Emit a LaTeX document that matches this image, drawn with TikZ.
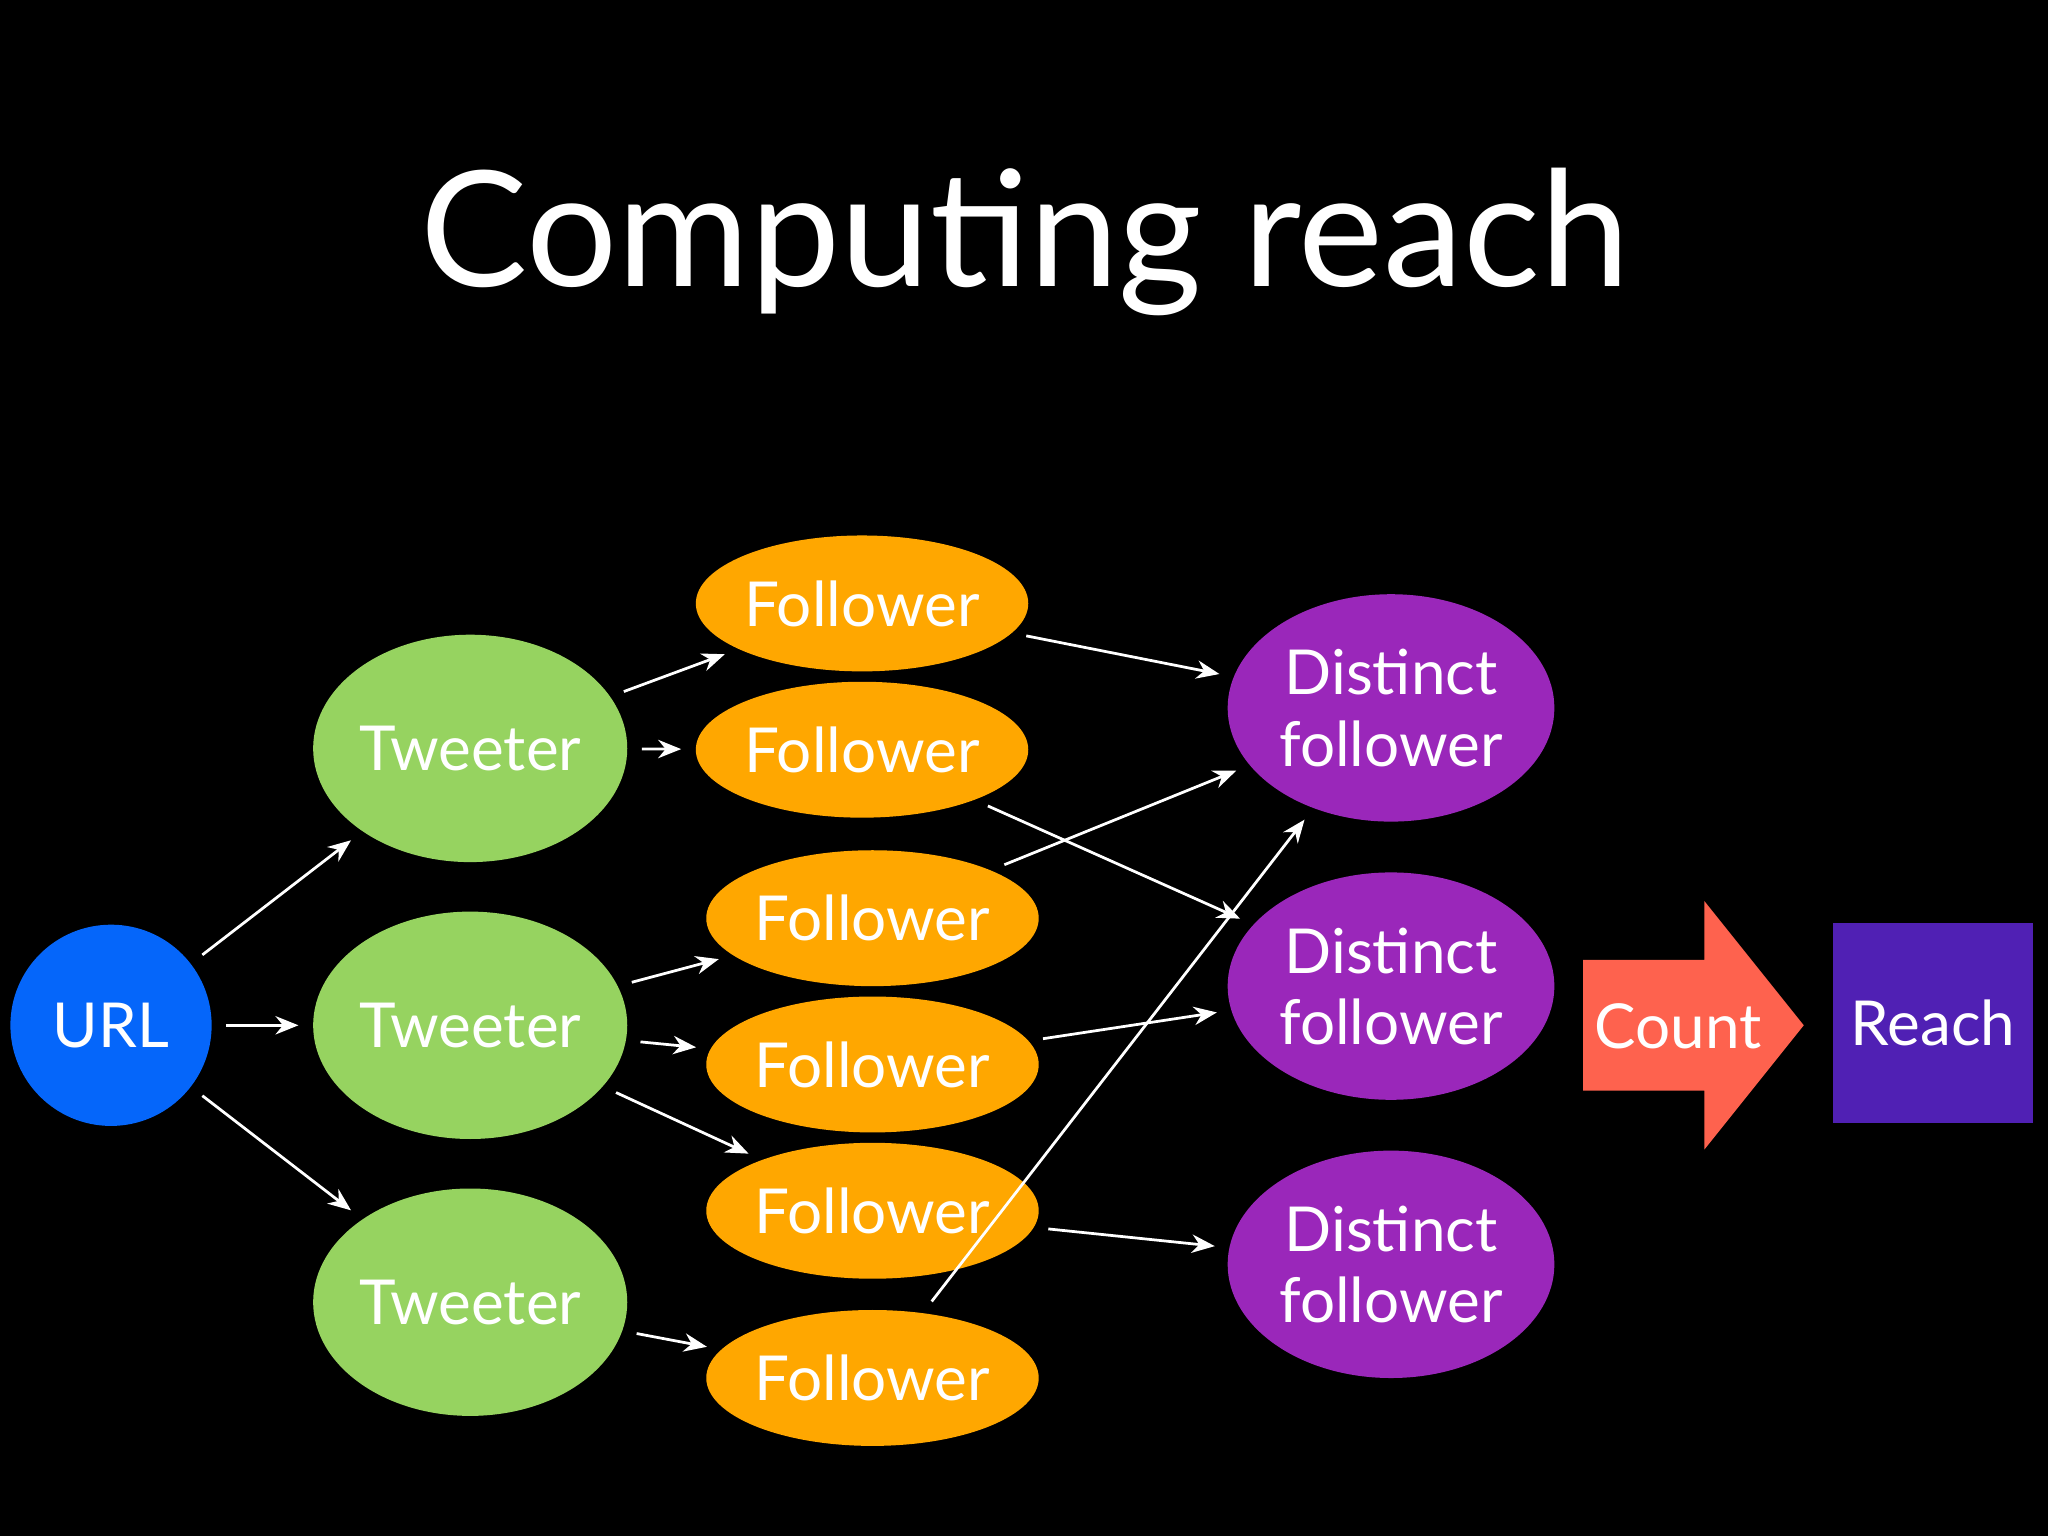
\documentclass[tikz,border=0pt]{standalone}
\usepackage{fontspec}
\setmainfont{Lato}
\usetikzlibrary{arrows.meta,shapes.geometric}
\definecolor{urlc}{HTML}{0566FA}
\definecolor{twc}{HTML}{96D360}
\definecolor{flc}{HTML}{FFA700}
\definecolor{dfc}{HTML}{9A27BA}
\definecolor{cnc}{HTML}{FE624E}
\definecolor{rcc}{HTML}{5020B4}
\begin{document}
\begin{tikzpicture}[x=0.01cm,y=-0.01cm,
  lbl/.style={text=white,font=\fontsize{13.5}{15}\selectfont,align=center},
  urlnode/.style={circle,fill=urlc,minimum size=1.54cm,inner sep=0pt,lbl},
  twnode/.style={ellipse,fill=twc,minimum width=1.8cm,minimum height=1.74cm,inner sep=0pt,lbl},
  flnode/.style={ellipse,fill=flc,minimum width=2.48cm,minimum height=1.04cm,inner sep=0pt,lbl},
  dfnode/.style={ellipse,fill=dfc,minimum width=2.5cm,minimum height=1.74cm,inner sep=0pt,lbl,font=\fontsize{13.5}{15.5}\selectfont},
  conn/.style={draw=white,line width=0.6pt,-{Stealth[length=5pt,width=4pt]},shorten <=3pt,shorten >=3pt}]
\fill[black] (0,0) rectangle (1568,1176);
\node[text=white,font=\fontsize{35}{40}\selectfont] (title) at (785,185) {Computing reach};
\node[urlnode] (url) at (85,785) {URL};
\node[twnode] (t1) at (360,573) {Tweeter};
\node[twnode] (t2) at (360,785) {Tweeter};
\node[twnode] (t3) at (360,997) {Tweeter};
\node[flnode] (f1) at (660,462) {Follower};
\node[flnode] (f2) at (660,574) {Follower};
\node[flnode] (f3) at (668,703) {Follower};
\node[flnode] (f4) at (668,815) {Follower};
\node[flnode] (f5) at (668,927) {Follower};
\node[flnode] (f6) at (668,1055) {Follower};
\node[dfnode] (d1) at (1065,542) {Distinct\\follower};
\node[dfnode] (d2) at (1065,755) {Distinct\\follower};
\node[dfnode] (d3) at (1065,968) {Distinct\\follower};
\fill[cnc] (1212,735) -- (1305,735) -- (1305,690) -- (1381,785) -- (1305,880) -- (1305,835) -- (1212,835) -- cycle;
\node[lbl] (count) at (1285,786) {Count};
\node[fill=rcc,minimum size=1.53cm,inner sep=0pt,lbl] (reach) at (1480,783) {Reach};
\draw[conn] (url) -- (t1);
\draw[conn] (url) -- (t2);
\draw[conn] (url) -- (t3);
\draw[conn] (t1) -- (f1);
\draw[conn] (t1) -- (f2);
\draw[conn] (t2) -- (f3);
\draw[conn] (t2) -- (f4);
\draw[conn] (t2) -- (f5);
\draw[conn] (t3) -- (f6);
\draw[conn] (f1) -- (d1);
\draw[conn] (f2) -- (d2);
\draw[conn] (f3) -- (d1);
\draw[conn] (f4) -- (d2);
\draw[conn] (f5) -- (d3);
\draw[conn] (f6) -- (d1);
\end{tikzpicture}
\end{document}
